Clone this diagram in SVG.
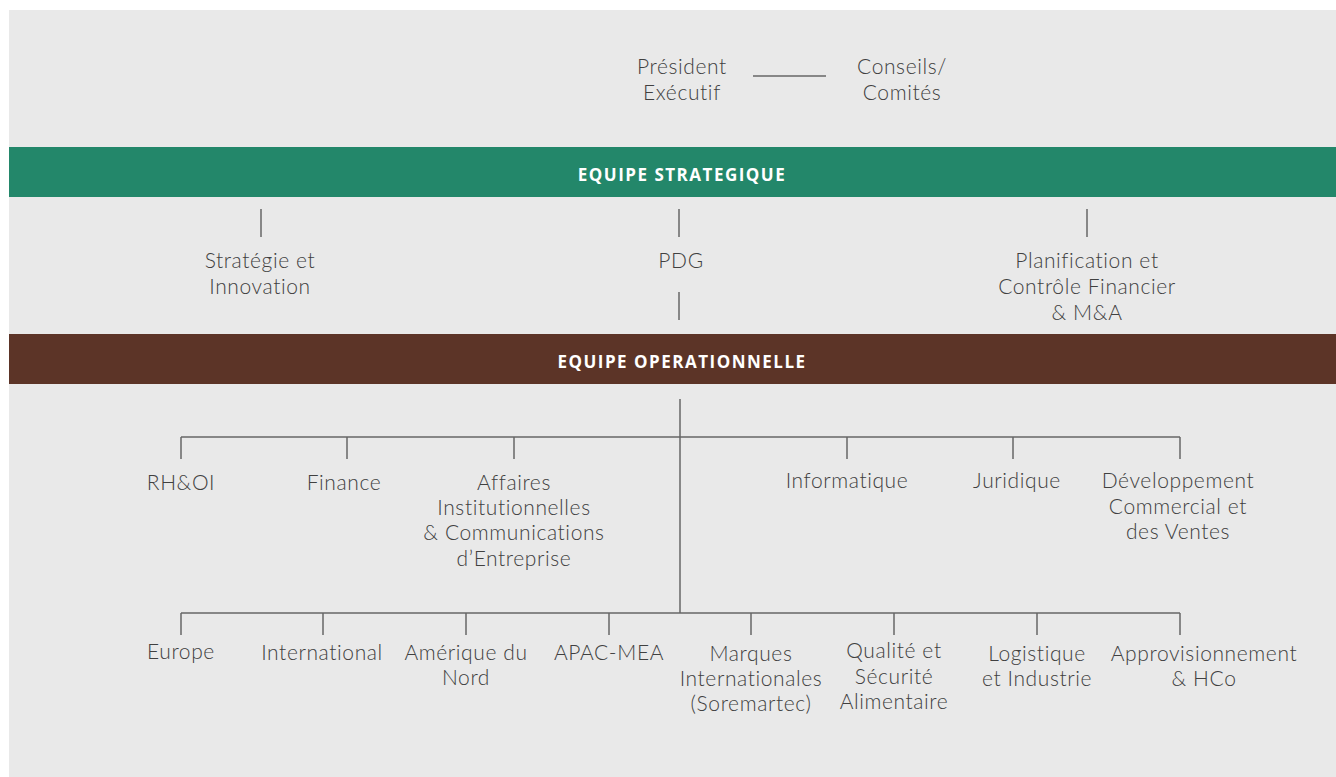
<svg xmlns="http://www.w3.org/2000/svg" width="1336" height="777" viewBox="0 0 1336 777">
<style>
.t{font-family:Lato,"Open Sans","Liberation Sans",sans-serif;font-weight:300;font-size:21px;letter-spacing:0.6px;fill:#404040;text-anchor:middle}
.b{font-family:"Open Sans",Lato,"Liberation Sans",sans-serif;font-weight:700;font-size:17px;letter-spacing:1.5px;fill:#ffffff;text-anchor:middle}
.l{stroke:#666666;stroke-width:1.5;fill:none}
</style>
<rect x="0" y="0" width="1336" height="777" fill="#ffffff"/>
<rect x="9" y="10" width="1327" height="767" fill="#e9e9e9"/>
<g id="top">
<g id="president"><text class="t" x="682" y="74">Président</text><text class="t" x="682" y="100">Exécutif</text></g>
<g id="conseils"><text class="t" x="902" y="74">Conseils/</text><text class="t" x="902" y="100">Comités</text></g>
</g>
<g id="equipe-strategique"><rect x="9" y="147" width="1327" height="50" fill="#23876a"/><text class="b" x="682" y="181">EQUIPE STRATEGIQUE</text></g>
<g id="strategie"><text class="t" x="260" y="268">Stratégie et</text><text class="t" x="260" y="294">Innovation</text></g>
<g id="pdg"><text class="t" x="681" y="268">PDG</text></g>
<g id="planification"><text class="t" x="1087" y="268">Planification et</text><text class="t" x="1087" y="294">Contrôle Financier</text><text class="t" x="1087" y="320">&amp; M&amp;A</text></g>
<g id="equipe-operationnelle"><rect x="9" y="334" width="1327" height="50" fill="#5c3427"/><text class="b" x="682" y="368">EQUIPE OPERATIONNELLE</text></g>
<g id="rhoi"><text class="t" x="181" y="490">RH&amp;OI</text></g>
<g id="finance"><text class="t" x="344" y="490">Finance</text></g>
<g id="affaires"><text class="t" x="514" y="490">Affaires</text><text class="t" x="514" y="515">Institutionnelles</text><text class="t" x="514" y="540">&amp; Communications</text><text class="t" x="514" y="566">d’Entreprise</text></g>
<g id="informatique"><text class="t" x="847" y="488">Informatique</text></g>
<g id="juridique"><text class="t" x="1017" y="488">Juridique</text></g>
<g id="developpement"><text class="t" x="1178" y="488">Développement</text><text class="t" x="1178" y="514">Commercial et</text><text class="t" x="1178" y="539">des Ventes</text></g>
<g id="europe"><text class="t" x="181" y="659">Europe</text></g>
<g id="international"><text class="t" x="322" y="660">International</text></g>
<g id="amerique"><text class="t" x="466" y="660">Amérique du</text><text class="t" x="466" y="685">Nord</text></g>
<g id="apac"><text class="t" x="609" y="660">APAC-MEA</text></g>
<g id="marques"><text class="t" x="751" y="661">Marques</text><text class="t" x="751" y="686">Internationales</text><text class="t" x="751" y="711">(Soremartec)</text></g>
<g id="qualite"><text class="t" x="894" y="658">Qualité et</text><text class="t" x="894" y="684">Sécurité</text><text class="t" x="894" y="709">Alimentaire</text></g>
<g id="logistique"><text class="t" x="1037" y="661">Logistique</text><text class="t" x="1037" y="686">et Industrie</text></g>
<g id="approvisionnement"><text class="t" x="1204" y="661">Approvisionnement</text><text class="t" x="1204" y="686">&amp; HCo</text></g>
<g id="connectors" class="l">
<line x1="753" y1="76" x2="826" y2="76"/>
<line x1="261" y1="209" x2="261" y2="237"/>
<line x1="679" y1="209" x2="679" y2="237"/>
<line x1="1087" y1="209" x2="1087" y2="237"/>
<line x1="679" y1="292" x2="679" y2="320"/>
<line x1="680" y1="399" x2="680" y2="613"/>
<line x1="181" y1="437" x2="1180" y2="437"/>
<line x1="181" y1="437" x2="181" y2="459"/>
<line x1="347" y1="437" x2="347" y2="459"/>
<line x1="514" y1="437" x2="514" y2="459"/>
<line x1="847" y1="437" x2="847" y2="459"/>
<line x1="1013" y1="437" x2="1013" y2="459"/>
<line x1="1180" y1="437" x2="1180" y2="459"/>
<line x1="181" y1="613" x2="1180" y2="613"/>
<line x1="181" y1="613" x2="181" y2="635"/>
<line x1="323" y1="613" x2="323" y2="635"/>
<line x1="466" y1="613" x2="466" y2="635"/>
<line x1="609" y1="613" x2="609" y2="635"/>
<line x1="751" y1="613" x2="751" y2="635"/>
<line x1="894" y1="613" x2="894" y2="635"/>
<line x1="1037" y1="613" x2="1037" y2="635"/>
<line x1="1180" y1="613" x2="1180" y2="635"/>
</g>
</svg>
